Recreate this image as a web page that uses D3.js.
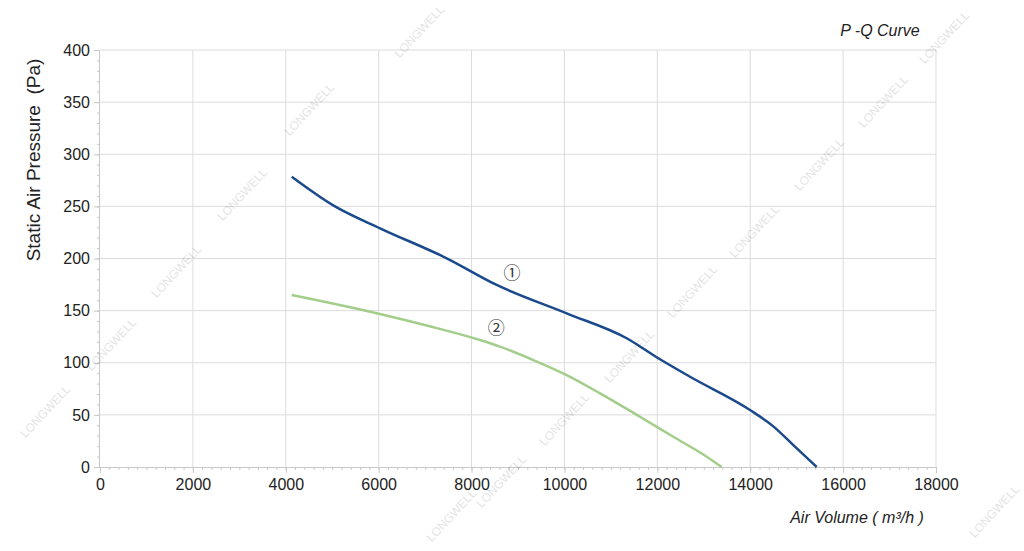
<!DOCTYPE html>
<html>
<head>
<meta charset="utf-8">
<script src="https://cdn.jsdelivr.net/npm/d3@7"></script>
<style>
  html, body { margin: 0; padding: 0; background: #fff; }
  svg { display: block; font-family: "Liberation Sans", Arial, sans-serif; }
</style>
</head>
<body>
<svg id="chart" width="1024" height="551"></svg>
<script>
// ---- data ----
const curve1Q = [4128, 5060, 6029, 7465, 8541, 10048, 11340, 12021, 12703, 13995, 14497, 14928, 15431];
const curve1P = [278.5, 250, 229, 200.2, 174.6, 147.4, 123.5, 104.3, 86.6, 54.7, 39, 21, 0];
const curve2Q = [4128, 6029, 7100, 8182, 8613, 9330, 10048, 10766, 11627, 12344, 13063, 13386];
const curve2P = [165, 146.8, 135, 121.8, 115.4, 102.6, 88.2, 70.7, 48.2, 29, 9.9, 0];
const xTicks = [0, 2000, 4000, 6000, 8000, 10000, 12000, 14000, 16000, 18000];
const yTicks = [0, 50, 100, 150, 200, 250, 300, 350, 400];
const curveLabels = ["①", "②"];
const labelQ = [8870, 8530];
const labelP = [188, 135];
const watermark = "LONGWELL";

// ---- layout ----
const svg = d3.select("#chart");
const mLeft = 100, mRight = 936, mTop = 50, mBottom = 467;
const x = d3.scaleLinear().domain([0, 18000]).range([mLeft, mRight]);
const y = d3.scaleLinear().domain([0, 400]).range([mBottom, mTop]);

// grid
const grid = svg.append("g");
grid.selectAll("line.v").data(xTicks.slice(1)).enter().append("line")
  .attr("x1", d => x(d)).attr("x2", d => x(d)).attr("y1", mTop).attr("y2", mBottom)
  .attr("stroke", "#dcdcdc").attr("stroke-width", 1);
grid.selectAll("line.h").data(yTicks.slice(1)).enter().append("line")
  .attr("x1", mLeft).attr("x2", mRight).attr("y1", d => y(d)).attr("y2", d => y(d))
  .attr("stroke", "#dcdcdc").attr("stroke-width", 1);

// axes
const xMinor = d3.range(0, 18001, 200);
const yMinor = d3.range(0, 401, 10);
const xAxisG = svg.append("g").attr("transform", `translate(0,${mBottom})`);
xAxisG.call(d3.axisBottom(x).tickValues(xMinor).tickSize(3).tickFormat(""))
  .call(g => g.select(".domain").remove())
  .call(g => g.selectAll("line").attr("stroke", "#c8c8c8"));
xAxisG.append("g").call(d3.axisBottom(x).tickValues(xTicks).tickSize(6).tickPadding(6).tickFormat(d3.format("d")))
  .call(g => g.select(".domain").attr("stroke", "#c8c8c8").attr("d", `M${mLeft},0.5H${mRight}`))
  .call(g => g.selectAll("line").attr("stroke", "#c8c8c8"))
  .call(g => g.selectAll("text").attr("fill", "#222").style("font-size", "16px").style("font-family", "Liberation Sans, Arial, sans-serif"));

const yAxisG = svg.append("g").attr("transform", `translate(${mLeft},0)`);
yAxisG.call(d3.axisLeft(y).tickValues(yMinor).tickSize(3).tickFormat(""))
  .call(g => g.select(".domain").remove())
  .call(g => g.selectAll("line").attr("stroke", "#c8c8c8"));
yAxisG.append("g").call(d3.axisLeft(y).tickValues(yTicks).tickSize(6).tickPadding(4))
  .call(g => g.select(".domain").attr("stroke", "#c8c8c8").attr("d", `M-0.5,${mTop}V${mBottom}`))
  .call(g => g.selectAll("line").attr("stroke", "#c8c8c8"))
  .call(g => g.selectAll("text").attr("fill", "#222").style("font-size", "16px").style("font-family", "Liberation Sans, Arial, sans-serif"));

// curves
const line = d3.line().x(d => x(d[0])).y(d => y(d[1])).curve(d3.curveMonotoneX);
svg.append("path").datum(curve2Q.map((q, i) => [q, curve2P[i]]))
  .attr("d", line).attr("fill", "none").attr("stroke", "#a3cd8b").attr("stroke-width", 2.5);
svg.append("path").datum(curve1Q.map((q, i) => [q, curve1P[i]]))
  .attr("d", line).attr("fill", "none").attr("stroke", "#1b4a8c").attr("stroke-width", 2.5);

// curve labels
svg.selectAll("text.cl").data(curveLabels).enter().append("text")
  .attr("x", (d, i) => x(labelQ[i])).attr("y", (d, i) => y(labelP[i]))
  .attr("text-anchor", "middle").attr("dominant-baseline", "central")
  .attr("fill", "#333").style("font-size", "17px").style("font-family", "'Noto Sans CJK SC', 'DejaVu Sans', sans-serif")
  .text(d => d);

// titles
svg.append("text").attr("x", 880).attr("y", 36).attr("text-anchor", "middle")
  .style("font-size", "16px").style("font-style", "italic").attr("fill", "#222").text("P -Q Curve");
svg.append("text").attr("x", 857).attr("y", 523).attr("text-anchor", "middle")
  .style("font-size", "16px").style("font-style", "italic").attr("fill", "#222").text("Air Volume ( m³/h )");
svg.append("text").attr("transform", "translate(40,160) rotate(-90)").attr("text-anchor", "middle")
  .style("font-size", "19px").style("white-space", "pre").attr("fill", "#222").text("Static Air Pressure  (Pa)");

// watermarks
const wmPos = [[420,32],[310,110],[243,195],[177,272],[112,345],[46,412],
               [945,38],[884,102],[820,165],[755,232],[693,292],[630,357],[565,420],[502,482],[452,516],[995,512]];
svg.selectAll("text.wm").data(wmPos).enter().append("text")
  .attr("transform", d => `translate(${d[0]},${d[1]}) rotate(-47)`)
  .attr("text-anchor", "middle").attr("dominant-baseline", "middle")
  .style("font-size", "12px").attr("fill", "#000").attr("opacity", 0.11)
  .text(watermark);
</script>
</body>
</html>
